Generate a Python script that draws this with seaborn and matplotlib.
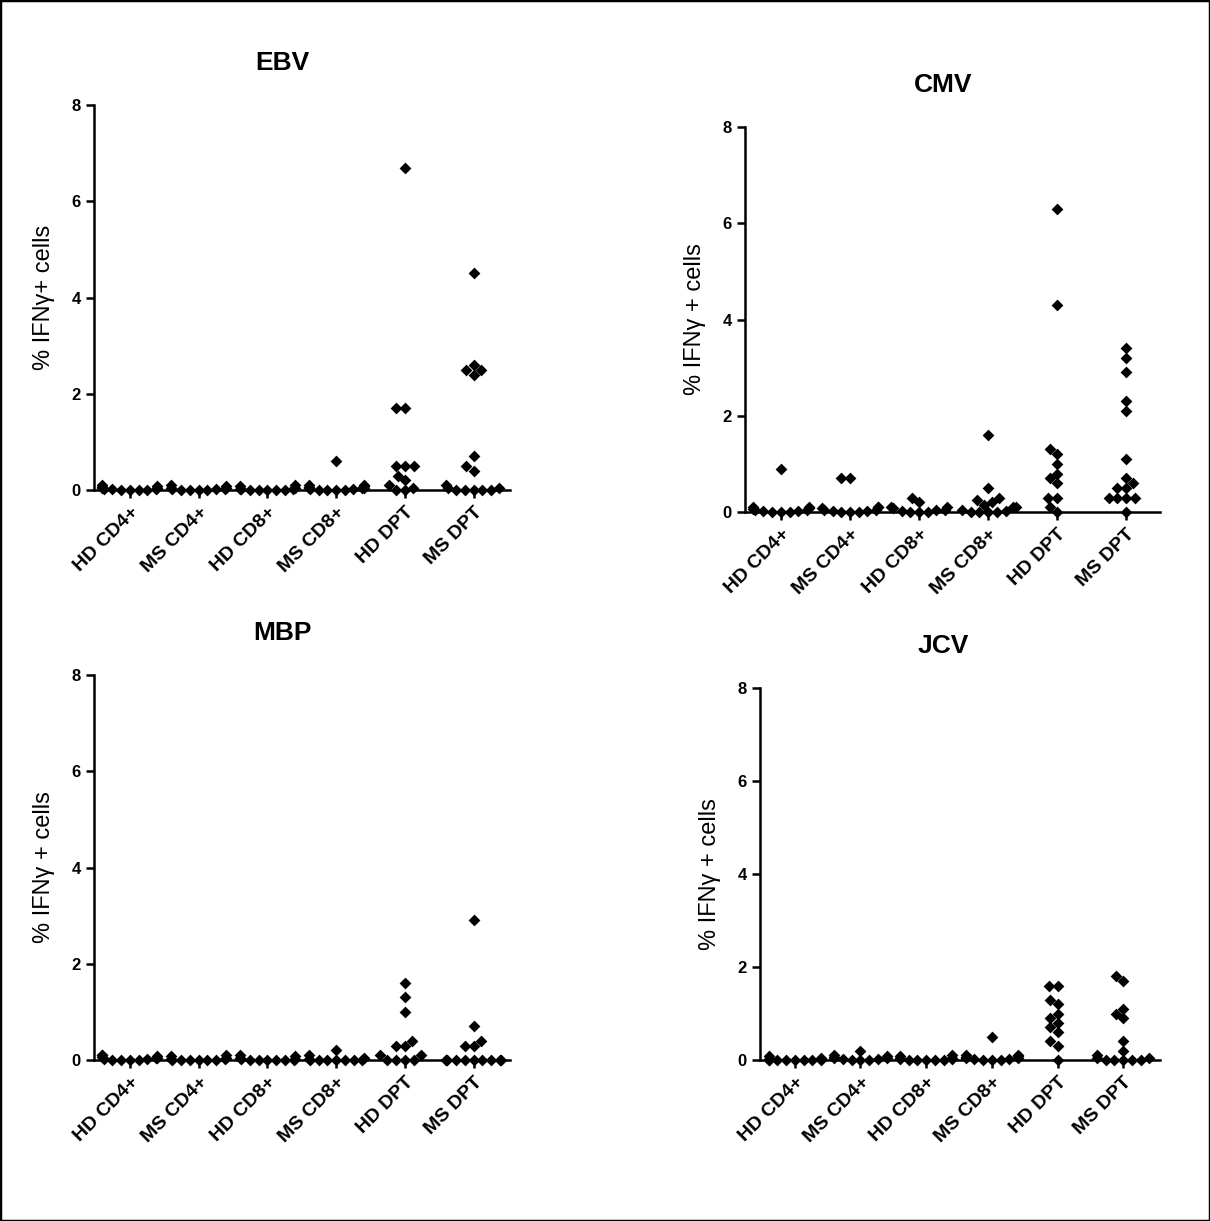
import matplotlib
matplotlib.use("Agg")
import matplotlib.pyplot as plt
from matplotlib.patches import Rectangle
import matplotlib.transforms as mtransforms
import seaborn as sns
import pandas as pd
import warnings
warnings.filterwarnings("ignore")

categories = ["HD CD4+", "MS CD4+", "HD CD8+", "MS CD8+", "HD DPT", "MS DPT"]

# EBV
ebv_hd_cd4 = [0.0, 0.0, 0.01, 0.02, 0.03, 0.05, 0.06, 0.08, 0.1, 0.04, 0.02, 0.0]
ebv_ms_cd4 = [0.1, 0.05, 0.03, 0.02, 0.0, 0.0, 0.01, 0.04, 0.08, 0.02, 0.0]
ebv_hd_cd8 = [0.0, 0.0, 0.0, 0.01, 0.02, 0.03, 0.05, 0.08, 0.1, 0.02, 0.0]
ebv_ms_cd8 = [0.6, 0.1, 0.1, 0.08, 0.05, 0.05, 0.03, 0.02, 0.0, 0.0, 0.01, 0.04, 0.06, 0.0]
ebv_hd_dpt = [6.7, 1.7, 1.7, 0.5, 0.5, 0.5, 0.3, 0.2, 0.1, 0.05, 0.0, 0.0]
ebv_ms_dpt = [4.5, 2.6, 2.5, 2.5, 2.4, 0.7, 0.5, 0.4, 0.1, 0.05, 0.05, 0.0, 0.0, 0.0, 0.0, 0.0]

# CMV
cmv_hd_cd4 = [0.9, 0.1, 0.08, 0.05, 0.05, 0.03, 0.02, 0.0, 0.0, 0.0, 0.06, 0.1]
cmv_ms_cd4 = [0.7, 0.7, 0.1, 0.08, 0.05, 0.03, 0.0, 0.0, 0.0, 0.02, 0.05, 0.1]
cmv_hd_cd8 = [0.3, 0.2, 0.1, 0.1, 0.05, 0.05, 0.02, 0.0, 0.0, 0.0, 0.08]
cmv_ms_cd8 = [1.6, 0.5, 0.3, 0.25, 0.2, 0.15, 0.1, 0.1, 0.05, 0.02, 0.0, 0.0, 0.0, 0.0]
cmv_hd_dpt = [6.3, 4.3, 1.3, 1.2, 1.0, 0.8, 0.7, 0.6, 0.3, 0.3, 0.1, 0.0]
cmv_ms_dpt = [3.4, 3.2, 2.9, 2.3, 2.1, 1.1, 0.7, 0.6, 0.5, 0.5, 0.3, 0.3, 0.3, 0.3, 0.0]

# MBP
mbp_hd_cd4 = [0.1, 0.08, 0.05, 0.05, 0.03, 0.02, 0.0, 0.0, 0.0, 0.01, 0.06, 0.1]
mbp_ms_cd4 = [0.08, 0.05, 0.02, 0.0, 0.0, 0.0, 0.0, 0.01, 0.03, 0.1, 0.0]
mbp_hd_cd8 = [0.08, 0.05, 0.02, 0.0, 0.0, 0.0, 0.0, 0.01, 0.03, 0.1, 0.0]
mbp_ms_cd8 = [0.2, 0.1, 0.05, 0.02, 0.0, 0.0, 0.0, 0.0, 0.0, 0.0, 0.0]
mbp_hd_dpt = [1.6, 1.3, 1.0, 0.4, 0.3, 0.3, 0.1, 0.1, 0.0, 0.0, 0.0, 0.0]
mbp_ms_dpt = [2.9, 0.7, 0.4, 0.3, 0.3, 0.0, 0.0, 0.0, 0.0, 0.0, 0.0, 0.0, 0.0, 0.0, 0.0]

# JCV
jcv_hd_cd4 = [0.0, 0.0, 0.0, 0.0, 0.0, 0.0, 0.0, 0.02, 0.05, 0.08, 0.0, 0.03]
jcv_ms_cd4 = [0.2, 0.1, 0.08, 0.05, 0.05, 0.03, 0.0, 0.0, 0.0, 0.02, 0.06]
jcv_hd_cd8 = [0.08, 0.05, 0.05, 0.02, 0.0, 0.0, 0.0, 0.0, 0.03, 0.1, 0.0]
jcv_ms_cd8 = [0.5, 0.1, 0.08, 0.05, 0.05, 0.03, 0.0, 0.0, 0.0, 0.02, 0.06, 0.1]
jcv_hd_dpt = [1.6, 1.6, 1.3, 1.2, 1.0, 0.9, 0.8, 0.7, 0.6, 0.4, 0.3, 0.0]
jcv_ms_dpt = [1.8, 1.7, 1.1, 1.0, 0.9, 0.4, 0.2, 0.1, 0.05, 0.0, 0.0, 0.0, 0.0, 0.0, 0.05]

panels = [
    ("EBV", "% IFN\u03b3+ cells",
     [ebv_hd_cd4, ebv_ms_cd4, ebv_hd_cd8, ebv_ms_cd8, ebv_hd_dpt, ebv_ms_dpt],
     [94, 490, 416, 385], (-0.52, 5.53), 0.454),
    ("CMV", "% IFN\u03b3 + cells",
     [cmv_hd_cd4, cmv_ms_cd4, cmv_hd_cd8, cmv_ms_cd8, cmv_hd_dpt, cmv_ms_dpt],
     [745, 512, 415, 385], (-0.52, 5.49), 0.477),
    ("MBP", "% IFN\u03b3 + cells",
     [mbp_hd_cd4, mbp_ms_cd4, mbp_hd_cd8, mbp_ms_cd8, mbp_hd_dpt, mbp_ms_dpt],
     [94, 1060, 416, 385], (-0.52, 5.53), 0.454),
    ("JCV", "% IFN\u03b3 + cells",
     [jcv_hd_cd4, jcv_ms_cd4, jcv_hd_cd8, jcv_ms_cd8, jcv_hd_dpt, jcv_ms_dpt],
     [760, 1060, 400, 372], (-0.53, 5.56), 0.457),
]

sns.set_theme(style="ticks")
plt.rcParams["font.family"] = ["Liberation Sans", "DejaVu Sans"]
plt.rcParams["text.color"] = "black"
plt.rcParams["axes.labelcolor"] = "black"
plt.rcParams["xtick.color"] = "black"
plt.rcParams["ytick.color"] = "black"

W, H = 1210, 1221
fig = plt.figure(figsize=(W / 100, H / 100), dpi=100)
shift = mtransforms.ScaledTranslation(-5 / 100, 0, fig.dpi_scale_trans)

for title, ylabel, groups, (lx, by, w, h), xlim, tx in panels:
    ax = fig.add_axes([lx / W, 1 - by / H, w / W, h / H])
    rows = []
    for cat, vals in zip(categories, groups):
        for v in vals:
            rows.append({"group": cat, "value": v})
    df = pd.DataFrame(rows)
    sns.swarmplot(data=df, x="group", y="value", order=categories, ax=ax,
                  marker="D", size=6.0, color="black", linewidth=0,
                  clip_on=False, zorder=3)
    ax.set_xlim(*xlim)
    ax.set_ylim(0, 8)
    ax.set_yticks([0, 2, 4, 6, 8])
    ax.set_yticklabels(["0", "2", "4", "6", "8"], fontweight="bold", fontsize=12)
    ax.set_xticks(range(len(categories)))
    ax.set_xticklabels(categories, rotation=45, ha="right", rotation_mode="anchor",
                       fontweight="bold", fontsize=14)
    for lab in ax.get_xticklabels():
        lab.set_transform(lab.get_transform() + shift)
    ax.set_xlabel("")
    ax.set_ylabel(ylabel, fontsize=17, labelpad=12)
    for s in ["top", "right"]:
        ax.spines[s].set_visible(False)
    for s in ["left", "bottom"]:
        ax.spines[s].set_linewidth(1.8)
        ax.spines[s].set_color("black")
        ax.spines[s].set_zorder(2)
    ax.tick_params(axis="both", direction="out", length=6, width=1.8, colors="black")
    ax.tick_params(axis="x", pad=4)
    ax.text(tx, 1 + 42 / h, title, transform=ax.transAxes, ha="center", va="center",
            fontsize=19, fontweight="bold", color="black")
    ax.set_facecolor("white")

fig.patches.append(Rectangle((0, 0), 1, 1, transform=fig.transFigure, fill=False,
                             edgecolor="black", linewidth=2.5, zorder=10))
fig.savefig("out.png", dpi=100, facecolor="white")
